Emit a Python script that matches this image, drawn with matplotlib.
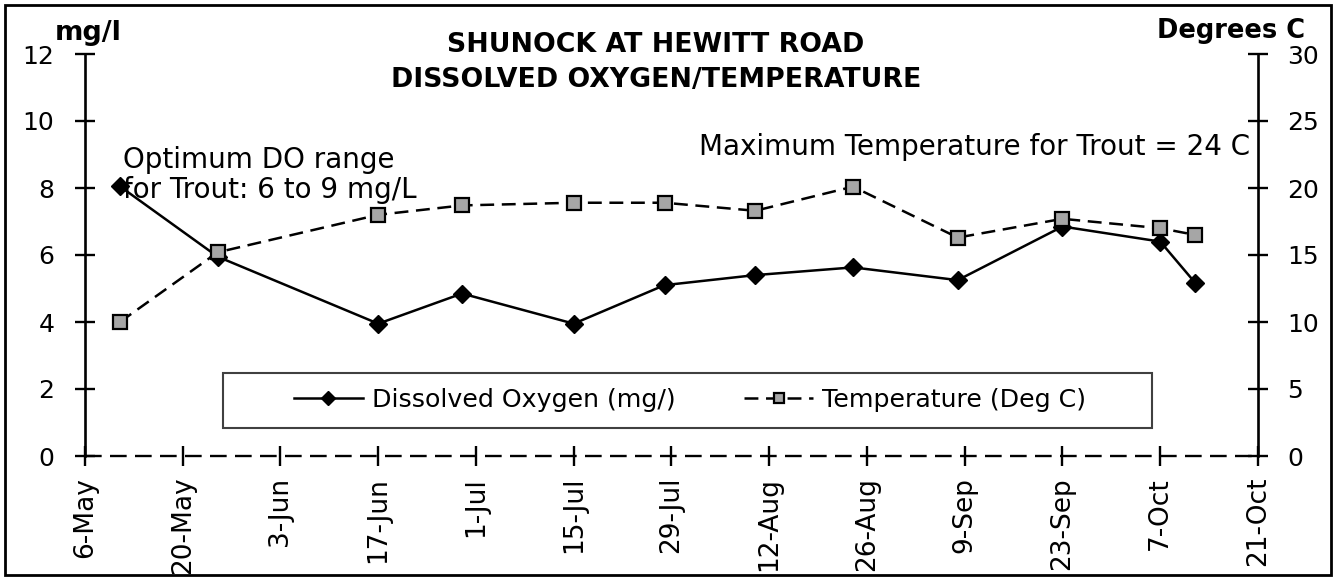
import matplotlib
matplotlib.use("Agg")
import matplotlib.pyplot as plt
import matplotlib.dates as mdates
from matplotlib.patches import Rectangle
from matplotlib.ticker import FuncFormatter, FixedLocator
import numpy as np
import datetime as dt

plt.rcParams['font.family'] = ['DejaVu Sans']
plt.rcParams['lines.scale_dashes'] = False

# ---- data ----
sample_dates = ['2003-05-11', '2003-05-25', '2003-06-17', '2003-06-29', '2003-07-15', '2003-07-28',
                '2003-08-10', '2003-08-24', '2003-09-08', '2003-09-23', '2003-10-07', '2003-10-12']
dissolved_oxygen = [8.05, 5.95, 3.95, 4.85, 3.95, 5.10, 5.40, 5.63, 5.25, 6.85, 6.40, 5.17]
temperature = [10.0, 15.2, 18.0, 18.7, 18.9, 18.9, 18.3, 20.1, 16.3, 17.7, 17.0, 16.5]
x_start = '2003-05-06'
x_end = '2003-10-21'
tick_step_days = 14
do_label = 'Dissolved Oxygen (mg/)'
temp_label = 'Temperature (Deg C)'

dates = [dt.datetime.strptime(d, '%Y-%m-%d') for d in sample_dates]
xs = mdates.date2num(dates)
x0 = mdates.date2num(dt.datetime.strptime(x_start, '%Y-%m-%d'))
x1 = mdates.date2num(dt.datetime.strptime(x_end, '%Y-%m-%d'))
xticks = np.arange(x0, x1 + 0.5, tick_step_days)

W, H = 1334, 578
fig = plt.figure(figsize=(W / 100, H / 100), dpi=100)
ax = fig.add_axes([85 / W, 1 - 456 / H, (1258 - 85) / W, (456 - 54) / H])
ax2 = ax.twinx()

fs_y = 18
fs_x = 19
fs_note = 20

# DO line
l1, = ax.plot(xs, dissolved_oxygen, color='black', lw=1.8, marker='D', ms=9.5,
              mfc='black', mec='black', zorder=3, label=do_label)
# temperature line
l2, = ax2.plot(xs, temperature, color='black', lw=1.8, dashes=(10, 5.5), marker='s', ms=9.5,
               mfc='#a6a6a6', mec='black', mew=1.6, zorder=3, label=temp_label)

ax.set_xlim(x0, x1)
ax.set_ylim(0, 12)
ax2.set_ylim(0, 30)
ax.set_yticks(np.arange(0, 13, 2))
ax2.set_yticks(np.arange(0, 31, 5))
ax.xaxis.set_major_locator(FixedLocator(xticks))
ax.xaxis.set_major_formatter(FuncFormatter(
    lambda v, p: f"{mdates.num2date(v).day}-{mdates.num2date(v).strftime('%b')}"))

for a in (ax, ax2):
    a.spines['top'].set_visible(False)
    a.spines['bottom'].set_visible(False)
    a.spines['left'].set_linewidth(1.9)
    a.spines['right'].set_linewidth(1.9)
    a.patch.set_visible(False)
ax2.spines['left'].set_visible(False)
ax.spines['right'].set_visible(False)

ax.tick_params(axis='y', direction='inout', length=14, width=1.7, labelsize=fs_y, pad=15)
ax2.tick_params(axis='y', direction='inout', length=14, width=1.7, labelsize=fs_y, pad=14)
ax.tick_params(axis='x', direction='inout', length=14, width=1.7, labelsize=fs_x, pad=8,
               labelrotation=90)

# dashed zero line along bottom
ax.axhline(0, color='black', lw=1.7, dashes=(12, 6), zorder=2, clip_on=False)

# annotations
ax.text((123 - 85) / 1173, (456 - 146) / 402, 'Optimum DO range\nfor Trout: 6 to 9 mg/L',
        transform=ax.transAxes, ha='left', va='top', fontsize=fs_note, linespacing=1.1, zorder=5)
ax.text((1250 - 85) / 1173, (456 - 147) / 402, 'Maximum Temperature for Trout = 24 C',
        transform=ax.transAxes, ha='right', va='center', fontsize=fs_note, zorder=5)

fig.text(656 / W, 1 - 45 / H, 'SHUNOCK AT HEWITT ROAD', ha='center', va='center',
         fontsize=19.3, fontweight='bold')
fig.text(656 / W, 1 - 80 / H, 'DISSOLVED OXYGEN/TEMPERATURE', ha='center', va='center',
         fontsize=19.3, fontweight='bold')
fig.text(88 / W, 1 - 33 / H, 'mg/l', ha='center', va='center', fontsize=19.5, fontweight='bold')
fig.text(1231 / W, 1 - 31 / H, 'Degrees C', ha='center', va='center', fontsize=18.5, fontweight='bold')

# legend (frame drawn separately)
leg = ax2.legend(handles=[l1, l2], loc='center', ncol=2,
                 bbox_to_anchor=((690 - 85) / 1173, (456 - 400) / 402),
                 frameon=False, fontsize=18.2, handlelength=2.75,
                 columnspacing=2.7, markerscale=0.75, handletextpad=0.35)
ax2.add_patch(Rectangle(((223 - 85) / 1173, (456 - 428) / 402), (1152 - 223) / 1173, (428 - 373) / 402,
                        transform=ax2.transAxes, fill=False, lw=1.5, ec='#404040', zorder=1))

# figure border
fig.patches.append(Rectangle((5 / W, 3 / H), (1331 - 5) / W, (575 - 5) / H,
                             transform=fig.transFigure, fill=False, lw=2, ec='black'))

fig.savefig('out.png', dpi=100)
